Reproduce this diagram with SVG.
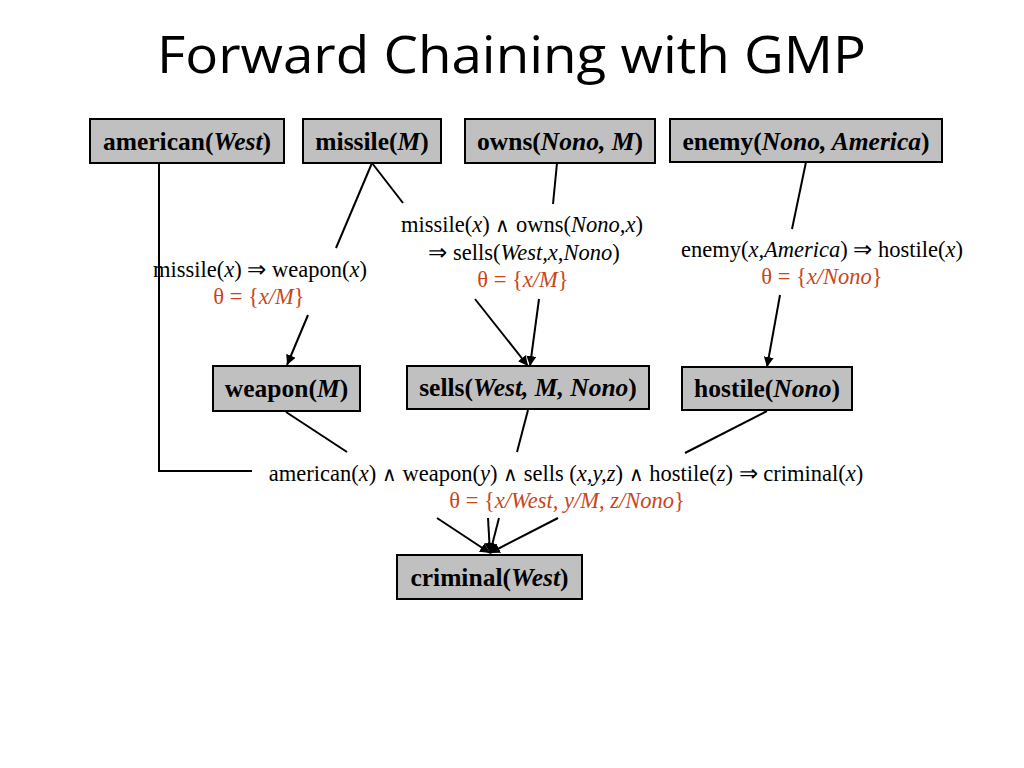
<svg xmlns="http://www.w3.org/2000/svg" width="1024" height="768" viewBox="0 0 1024 768">
<style>
.box{fill:#c0c0c0;stroke:#000;stroke-width:2}
.bt{font-family:"Liberation Serif","Times New Roman",serif;font-size:25.5px;font-weight:bold;fill:#000;text-anchor:middle}
.rt{font-family:"Liberation Serif","Times New Roman",serif;font-size:22.5px;fill:#000;text-anchor:middle}
.th{font-family:"Liberation Serif","Times New Roman",serif;font-size:22.5px;fill:#c8461a;text-anchor:middle}
.i{font-style:italic}
.w{font-size:20px}
.ln{stroke:#000;stroke-width:2;fill:none}
.title{font-family:"Open Sans","Noto Sans",sans-serif;font-size:52px;fill:#000}
</style>
<defs>
<marker id="ah" viewBox="0 0 10 10" refX="10" refY="5" markerWidth="5" markerHeight="5" orient="auto" markerUnits="strokeWidth">
<path d="M0,0 L10,5 L0,10 z" fill="#000"/>
</marker>
</defs>
<text class="title" x="157" y="73" textLength="709" lengthAdjust="spacingAndGlyphs">Forward Chaining with GMP</text>

<g id="connectors">
<polyline class="ln" points="159,163 159,471 252,471"/>
<line class="ln" x1="372" y1="163" x2="336" y2="248"/>
<line class="ln" x1="372" y1="163" x2="403" y2="203"/>
<line class="ln" x1="557" y1="163" x2="553" y2="204"/>
<line class="ln" x1="806" y1="162" x2="792" y2="229"/>
<line class="ln" x1="308" y1="315" x2="287" y2="365" marker-end="url(#ah)"/>
<line class="ln" x1="475" y1="299" x2="528" y2="366" marker-end="url(#ah)"/>
<line class="ln" x1="539" y1="299" x2="530" y2="366" marker-end="url(#ah)"/>
<line class="ln" x1="780" y1="295" x2="767" y2="367" marker-end="url(#ah)"/>
<line class="ln" x1="286" y1="412" x2="347" y2="452"/>
<line class="ln" x1="528" y1="410" x2="517" y2="452"/>
<line class="ln" x1="767" y1="411" x2="685" y2="453"/>
<line class="ln" x1="437" y1="518" x2="490" y2="553" marker-end="url(#ah)"/>
<line class="ln" x1="488" y1="518" x2="490" y2="553" marker-end="url(#ah)"/>
<line class="ln" x1="499" y1="518" x2="490" y2="553" marker-end="url(#ah)"/>
<line class="ln" x1="558" y1="518" x2="490" y2="553" marker-end="url(#ah)"/>
</g>

<g id="rules">
<text class="rt" x="522" y="232">missile(<tspan class="i">x</tspan>) <tspan class="w">∧</tspan> owns(<tspan class="i">Nono,x</tspan>)</text>
<text class="rt" x="524" y="260">⇒ sells(<tspan class="i">West,x,Nono</tspan>)</text>
<text class="th" x="523" y="287">θ = {<tspan class="i">x/M</tspan>}</text>
<text class="rt" x="260" y="277">missile(<tspan class="i">x</tspan>) ⇒ weapon(<tspan class="i">x</tspan>)</text>
<text class="th" x="259" y="304">θ = {<tspan class="i">x/M</tspan>}</text>
<text class="rt" x="822" y="257">enemy(<tspan class="i">x,America</tspan>) ⇒ hostile(<tspan class="i">x</tspan>)</text>
<text class="th" x="822" y="284">θ = {<tspan class="i">x/Nono</tspan>}</text>
<text class="rt" x="566" y="481">american(<tspan class="i">x</tspan>) <tspan class="w">∧</tspan> weapon(<tspan class="i">y</tspan>) <tspan class="w">∧</tspan> sells (<tspan class="i">x,y,z</tspan>) <tspan class="w">∧</tspan> hostile(<tspan class="i">z</tspan>) ⇒ criminal(<tspan class="i">x</tspan>)</text>
<text class="th" x="567" y="508">θ = {<tspan class="i">x/West, y/M, z/Nono</tspan>}</text>
</g>

<g id="american"><rect class="box" x="90" y="119" width="194" height="44"/><text class="bt" x="187" y="150">american(<tspan class="i">West</tspan>)</text></g>
<g id="missile"><rect class="box" x="303" y="119" width="138" height="44"/><text class="bt" x="372" y="150">missile(<tspan class="i">M</tspan>)</text></g>
<g id="owns"><rect class="box" x="465" y="119" width="190" height="44"/><text class="bt" x="560" y="150">owns(<tspan class="i">Nono, M</tspan>)</text></g>
<g id="enemy"><rect class="box" x="670" y="119" width="272" height="43"/><text class="bt" x="806" y="150">enemy(<tspan class="i">Nono, America</tspan>)</text></g>
<g id="weapon"><rect class="box" x="213" y="366" width="147" height="45"/><text class="bt" x="286.5" y="397">weapon(<tspan class="i">M</tspan>)</text></g>
<g id="sells"><rect class="box" x="407" y="366" width="242" height="43"/><text class="bt" x="528" y="396">sells(<tspan class="i">West, M, Nono</tspan>)</text></g>
<g id="hostile"><rect class="box" x="682" y="367" width="170" height="43"/><text class="bt" x="767" y="397">hostile(<tspan class="i">Nono</tspan>)</text></g>
<g id="criminal"><rect class="box" x="397" y="555" width="185" height="44"/><text class="bt" x="489.5" y="586">criminal(<tspan class="i">West</tspan>)</text></g>
</svg>
